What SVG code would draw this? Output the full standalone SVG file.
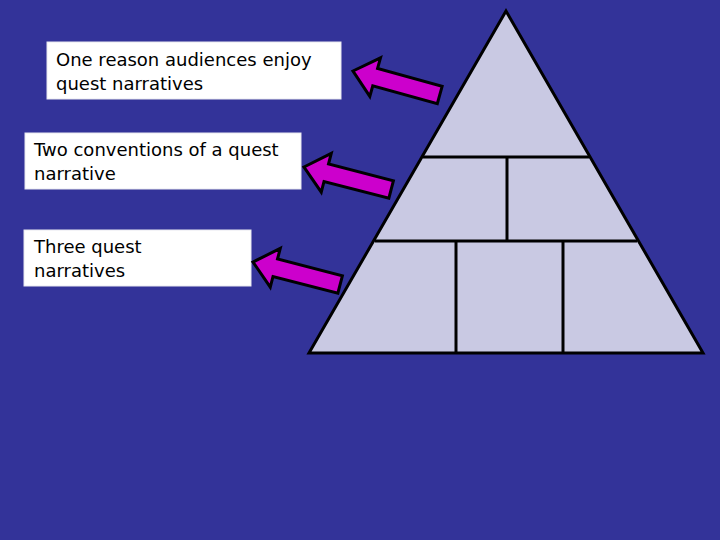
<svg xmlns="http://www.w3.org/2000/svg" width="720" height="540" viewBox="0 0 720 540">
<style>
.box{fill:#ffffff;stroke:#e8e8f0;stroke-width:1}
.lbl{font-family:"Comic Sans MS","DejaVu Sans",sans-serif;font-size:18px;fill:#000000}
.tri{fill:#c9c9e3;stroke:#000000;stroke-width:3;stroke-linejoin:miter}
.div{stroke:#000000;stroke-width:3;fill:none}
.arr{fill:#cc00cc;stroke:#000000;stroke-width:3;stroke-linejoin:miter}
</style>
<defs>
<path id="arrowShape" d="M0,0 L23,-20 L23,-9 L90,-9 L90,9 L23,9 L23,20 Z"/>
</defs>
<rect width="720" height="540" fill="#333399"/>
<g id="pyramid">
<polygon class="tri" points="506,11 309,353 703,353"/>
<line class="div" x1="423" y1="157" x2="589" y2="157"/>
<line class="div" x1="375" y1="241" x2="637" y2="241"/>
<line class="div" x1="507" y1="157" x2="507" y2="241"/>
<line class="div" x1="456" y1="241" x2="456" y2="353"/>
<line class="div" x1="563" y1="241" x2="563" y2="353"/>
</g>
<g id="box1">
<rect class="box" x="47" y="42" width="294" height="57"/>
<text class="lbl" x="56" y="66">One reason audiences enjoy</text>
<text class="lbl" x="56" y="90">quest narratives</text>
</g>
<g id="box2">
<rect class="box" x="25" y="133" width="276" height="56"/>
<text class="lbl" x="34" y="156">Two conventions of a quest</text>
<text class="lbl" x="34" y="180">narrative</text>
</g>
<g id="box3">
<rect class="box" x="24" y="230" width="227" height="56"/>
<text class="lbl" x="34" y="253">Three quest</text>
<text class="lbl" x="34" y="277">narratives</text>
</g>
<g id="connectors">
<use href="#arrowShape" class="arr" transform="translate(353,71) rotate(15.5)"/>
<use href="#arrowShape" class="arr" transform="translate(304,167) rotate(14.5)"/>
<use href="#arrowShape" class="arr" transform="translate(253,262) rotate(14.5)"/>
</g>
</svg>
